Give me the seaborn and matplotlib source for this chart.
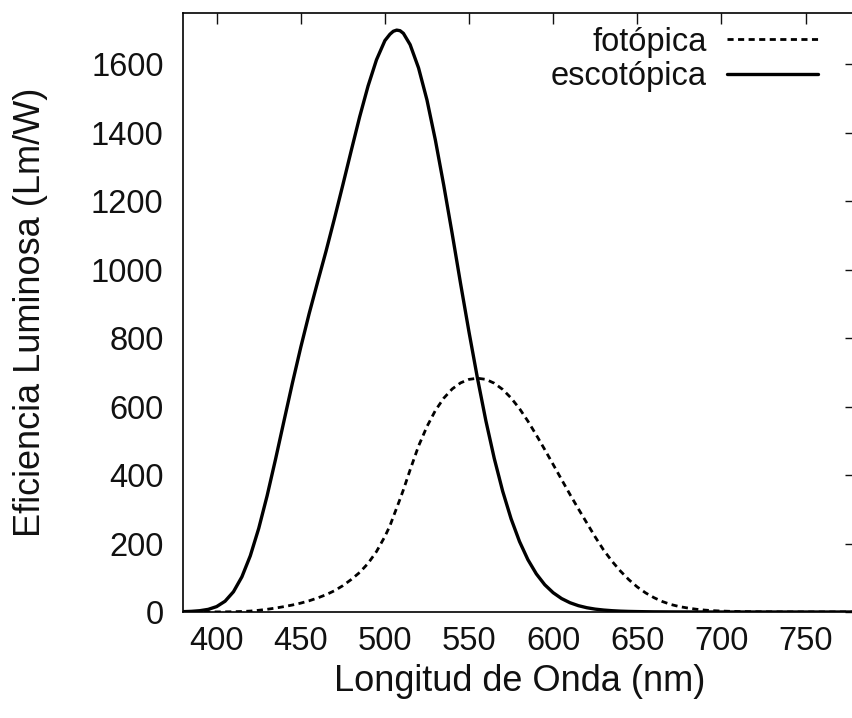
import matplotlib
matplotlib.use("Agg")
import matplotlib.pyplot as plt
import pandas as pd
import seaborn as sns

# --- DATOS (lm/W) ---
longitud_onda = [
    380, 385, 390, 395, 400, 405, 410, 415, 420, 425,
    430, 435, 440, 445, 450, 455, 460, 465, 470, 475,
    480, 485, 490, 495, 500, 503, 505, 507, 509, 511, 515, 520, 525,
    530, 535, 540, 545, 550, 555, 560, 565, 570, 575,
    580, 585, 590, 595, 600, 605, 610, 615, 620, 625,
    630, 635, 640, 645, 650, 655, 660, 665, 670, 675,
    680, 685, 690, 695, 700, 705, 710, 715, 720, 725,
    730, 735, 740, 745, 750, 755, 760, 765, 770, 775, 780,
]

fotopica = [
    0.03, 0.04, 0.08, 0.15, 0.27, 0.44, 0.83, 1.49, 2.73, 4.99,
    7.92, 11.5, 15.7, 20.4, 26.0, 32.8, 41.0, 50.5, 62.1, 76.9,
    95.0, 115.6, 142.1, 176.6, 220.6, 252.0, 278.2, 304.0, 330.0, 357.0, 415.4, 484.9, 541.8,
    588.7, 624.8, 651.6, 669.5, 679.6, 683.0, 679.6, 668.4, 650.2, 625.2,
    594.2, 557.5, 517.0, 474.6, 431.0, 387.1, 343.5, 301.3, 260.2, 219.2,
    181.0, 148.2, 119.5, 94.4, 73.1, 55.7, 41.7, 30.4, 21.9, 15.8,
    11.6, 8.1, 5.6, 3.9, 2.8, 2.0, 1.4, 1.0, 0.7, 0.5,
    0.36, 0.25, 0.17, 0.12, 0.08, 0.06, 0.04, 0.03, 0.02, 0.01, 0.01,
]

escotopica = [
    1.0, 1.9, 3.8, 7.7, 15.8, 31.5, 59.2, 102.7, 164.2, 244.1,
    339.7, 446.3, 557.8, 668.3, 773.5, 872.1, 963.9, 1054.0, 1149.2, 1247.8,
    1348.1, 1446.7, 1536.8, 1613.3, 1669.4, 1688.0, 1696.6, 1700.0, 1698.3, 1690.5, 1657.5, 1589.5, 1496.0,
    1378.7, 1246.1, 1105.0, 958.8, 817.7, 683.4, 559.0, 448.6, 352.9, 272.3,
    206.0, 152.8, 111.4, 79.7, 56.4, 39.3, 27.1, 18.5, 12.5, 8.4,
    5.7, 3.8, 2.5, 1.7, 1.2, 0.8, 0.5, 0.4, 0.25, 0.17,
    0.12, 0.09, 0.06, 0.04, 0.03, 0.02, 0.01, 0.01, 0.0, 0.0,
    0.0, 0.0, 0.0, 0.0, 0.0, 0.0, 0.0, 0.0, 0.0, 0.0, 0.0,
]

xticks = [400, 450, 500, 550, 600, 650, 700, 750]
yticks = [0, 200, 400, 600, 800, 1000, 1200, 1400, 1600]

df = pd.DataFrame({"lambda": longitud_onda, "fot": fotopica, "esc": escotopica})

# --- ESTILO ---
sns.set_style("white")
plt.rcParams["font.family"] = ["Liberation Sans", "DejaVu Sans"]
plt.rcParams["text.color"] = "#111111"
plt.rcParams["axes.labelcolor"] = "#111111"

fig = plt.figure(figsize=(8.52, 7.18), dpi=100)
ax = fig.add_axes([183 / 852, 1 - 612 / 718, (856 - 183) / 852, (612 - 13) / 718])

sns.lineplot(data=df, x="lambda", y="fot", ax=ax, color="black", lw=2.0,
             linestyle=(0, (2.2, 1.6)), label="fotópica")
sns.lineplot(data=df, x="lambda", y="esc", ax=ax, color="black", lw=2.4,
             label="escotópica")

ax.set_xlim(380, 780)
ax.set_ylim(0, 1750)
ax.set_xticks(xticks)
ax.set_yticks(yticks)
ax.tick_params(direction="in", length=8, width=1.0, top=True, right=True,
               labelsize=23.5, colors="#111111")
ax.tick_params(axis="y", pad=14)
ax.tick_params(axis="x", pad=10)
for sp in ax.spines.values():
    sp.set_color("black")
    sp.set_linewidth(1.2)

ax.set_xlabel("Longitud de Onda (nm)", fontsize=26, labelpad=5)
ax.set_ylabel("Eficiencia Luminosa (Lm/W)", fontsize=26, labelpad=31)

leg = ax.legend(loc="upper right", bbox_to_anchor=(0.9435, 0.977), frameon=False,
                markerfirst=False, fontsize=23.5, handlelength=2.8,
                handletextpad=0.6, borderpad=0, borderaxespad=0, labelspacing=0.1)

fig.savefig("out.png", dpi=100)
